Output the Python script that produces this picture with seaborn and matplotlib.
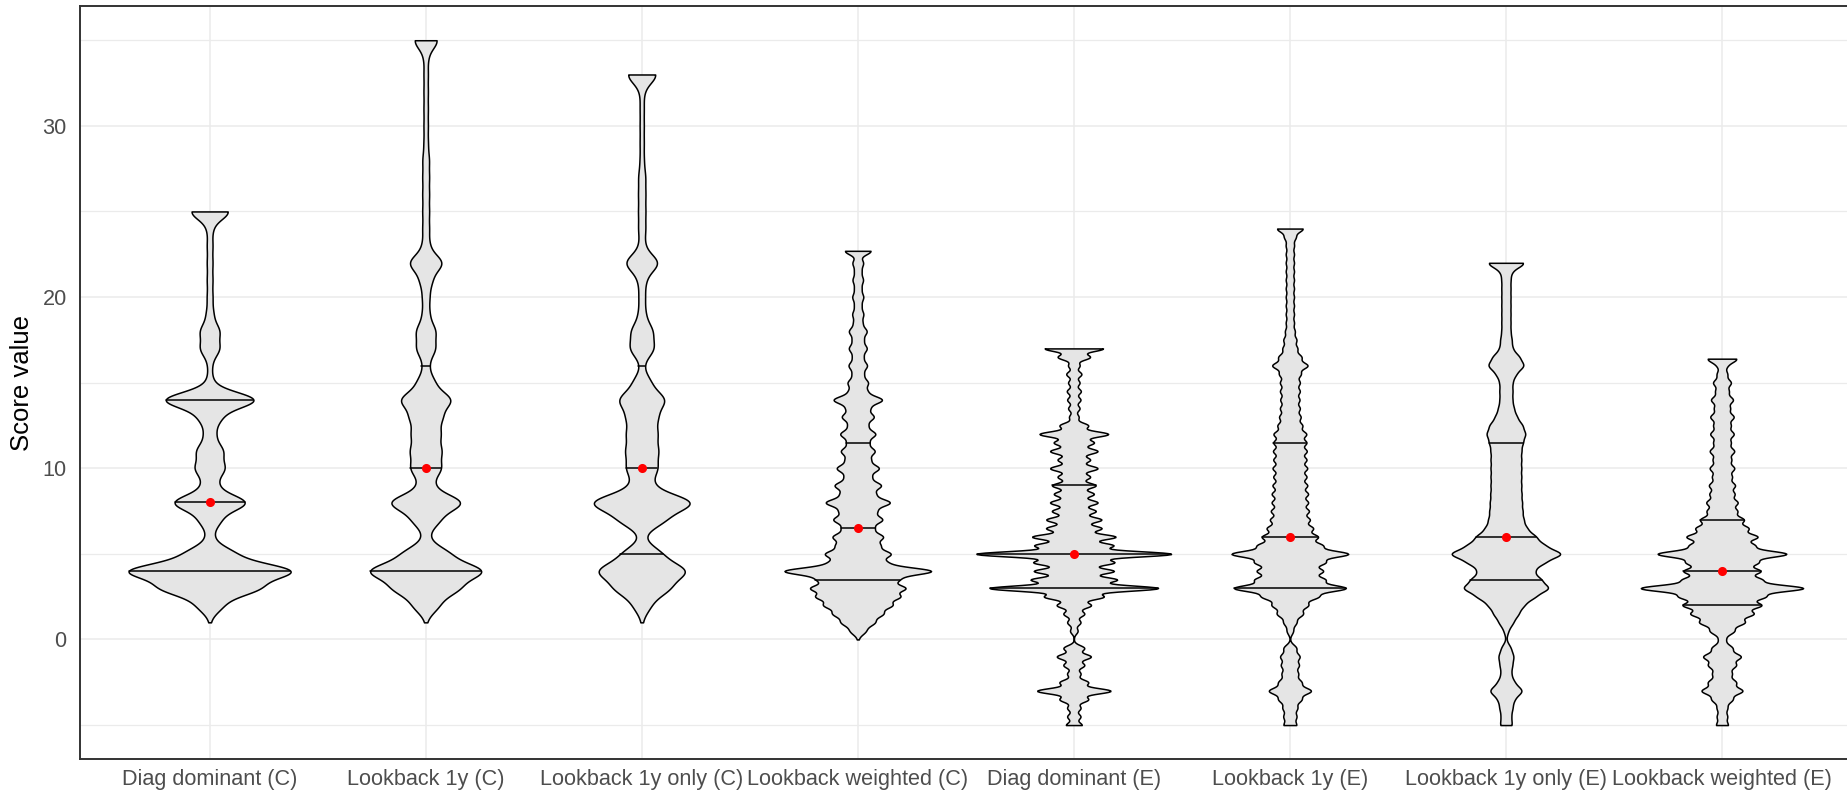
import numpy as np
import pandas as pd
import matplotlib
matplotlib.use("Agg")
import matplotlib.pyplot as plt
import seaborn as sns
from matplotlib.ticker import FixedLocator

categories = [
    "Diag dominant (C)", "Lookback 1y (C)", "Lookback 1y only (C)", "Lookback weighted (C)",
    "Diag dominant (E)", "Lookback 1y (E)", "Lookback 1y only (E)", "Lookback weighted (E)",
]

# Score values and the number of records holding each score, one pair per method
diag_c_scores = [1, 2, 3, 4, 5, 6, 7, 8, 9, 10, 11, 12, 13, 14, 15, 16, 17, 18, 19, 20,
                 21, 22, 23, 24, 25]
diag_c_counts = [1, 32, 124, 214, 62, 8, 27, 96, 18, 38, 34, 14, 28, 122, 8, 5, 25, 25, 9, 7,
                 7, 7, 7, 7, 51]

lb1y_c_scores = [1, 2, 3, 4, 5, 6, 7, 8, 9, 10, 11, 12, 13, 14, 15, 16, 17, 18, 19, 20,
                 21, 22, 23, 24, 25, 26, 27, 28, 29, 30, 31, 32, 33, 34, 35]
lb1y_c_counts = [2, 55, 140, 248, 100, 10, 58, 160, 29, 65, 65, 60, 67, 110, 37, 12, 41, 42, 15, 15,
                 26, 73, 15, 14, 14, 14, 14, 14, 9, 9, 9, 9, 9, 9, 53]

lb1y_only_c_scores = [1, 2, 3, 4, 5, 6, 7, 8, 9, 10, 11, 12, 13, 14, 15, 16, 17, 18, 19, 20,
                      21, 22, 23, 24, 25, 26, 27, 28, 29, 30, 31, 32, 33]
lb1y_only_c_counts = [2, 39, 125, 205, 89, 5, 104, 240, 43, 70, 72, 68, 68, 107, 40, 6, 56, 50, 16, 14,
                      17, 79, 12, 16, 16, 16, 16, 9, 9, 9, 9, 9, 72]

lbw_c_scores = [0, 0.5, 1, 1.5, 2, 2.5, 3, 3.5, 4, 4.5, 5, 5.5, 6, 6.5, 7, 7.5, 8, 8.5, 9, 9.5,
                10, 10.5, 11, 11.5, 12, 12.5, 13, 13.5, 14, 14.5, 15, 15.5, 16, 16.5, 17, 17.5,
                18, 18.5, 19, 19.5, 20, 20.5, 21, 21.5, 22, 22.7]
lbw_c_counts = [9, 135, 285, 420, 570, 700, 800, 640, 1300, 450, 560, 360, 430, 260, 420, 300, 560, 280, 400, 215,
                365, 205, 290, 180, 305, 160, 275, 190, 430, 150, 175, 95, 160, 90, 155, 95,
                155, 75, 95, 60, 95, 60, 90, 60, 95, 240]

diag_e_scores = [-5, -4.5, -4, -3.5, -3, -2.5, -2, -1.5, -1, -0.5,
                 0.5, 1, 1.5, 2, 2.5, 3, 3.5, 4, 4.5, 5, 5.5, 6, 6.5, 7, 7.5, 8, 8.5, 9, 9.5,
                 10, 10.5, 11, 11.5, 12, 12.5, 13, 13.5, 14, 14.5, 15, 15.5, 16, 16.5, 17]
diag_e_counts = [126, 105, 105, 225, 585, 225, 105, 165, 270, 165,
                 60, 105, 165, 270, 465, 1340, 675, 630, 630, 1550, 615, 660, 435, 435, 345, 375, 315, 345, 255,
                 375, 255, 375, 315, 546, 225, 75, 90, 105, 111, 90, 120, 90, 255, 465]

lb1y_e_scores = [-5, -4.5, -4, -3.5, -3, -2.5, -2, -1.5, -1, -0.5,
                 0.5, 1, 1.5, 2, 2.5, 3, 3.5, 4, 4.5, 5, 5.5, 6, 6.5, 7, 7.5, 8, 8.5, 9, 9.5,
                 10, 10.5, 11, 11.5, 12, 12.5, 13, 13.5, 14, 14.5, 15, 15.5, 16, 16.5, 17, 17.5,
                 18, 18.5, 19, 19.5, 20, 20.5, 21, 21.5, 22, 22.5, 23, 23.5, 24]
lb1y_e_counts = [160, 160, 180, 280, 528, 280, 200, 220, 240, 160,
                 80, 160, 320, 440, 680, 1400, 840, 800, 840, 1460, 776, 680, 560, 480, 460, 440, 440, 420, 400,
                 420, 400, 408, 400, 400, 300, 260, 240, 232, 240, 240, 260, 440, 280, 180, 160,
                 120, 100, 100, 100, 100, 100, 100, 100, 100, 100, 100, 140, 328]

lb1y_only_e_scores = [-5, -4.5, -4, -3.5, -3, -2.5, -2, -1.5, -1, -0.5,
                      0.5, 1, 1.5, 2, 2.5, 3, 3.5, 4, 4.5, 5, 5.5, 6, 6.5, 7, 7.5, 8, 8.5, 9, 9.5,
                      10, 10.5, 11, 11.5, 12, 12.5, 13, 13.5, 14, 14.5, 15, 15.5, 16, 16.5, 17, 17.5,
                      18, 18.5, 19, 19.5, 20, 20.5, 21, 21.5, 22]
lb1y_only_e_counts = [25, 20, 26, 32, 69, 33, 20, 25, 31, 20,
                      9, 29, 50, 70, 114, 175, 138, 107, 150, 230, 150, 119, 81, 69, 65, 63, 61, 60, 60,
                      60, 60, 60, 66, 78, 66, 43, 31, 25, 26, 25, 39, 74, 54, 25, 23,
                      18, 18, 18, 18, 18, 18, 18, 22, 83]

lbw_e_scores = [-5, -4.5, -4, -3.5, -3, -2.5, -2, -1.5, -1, -0.5, 0,
                0.5, 1, 1.5, 2, 2.5, 3, 3.5, 4, 4.5, 5, 5.5, 6, 6.5, 7, 7.5, 8, 8.5, 9, 9.5,
                10, 10.5, 11, 11.5, 12, 12.5, 13, 13.5, 14, 14.5, 15, 15.5, 16, 16.4]
lbw_e_counts = [35, 30, 30, 60, 120, 80, 55, 80, 110, 60, 20,
                70, 130, 180, 225, 240, 480, 220, 220, 200, 380, 180, 205, 150, 125, 86, 90, 71, 75, 56,
                71, 52, 71, 49, 68, 49, 68, 45, 64, 38, 52, 30, 26, 84]

score_sets = [
    (diag_c_scores, diag_c_counts), (lb1y_c_scores, lb1y_c_counts),
    (lb1y_only_c_scores, lb1y_only_c_counts), (lbw_c_scores, lbw_c_counts),
    (diag_e_scores, diag_e_counts), (lb1y_e_scores, lb1y_e_counts),
    (lb1y_only_e_scores, lb1y_only_e_counts), (lbw_e_scores, lbw_e_counts),
]

# kernel bandwidth (score units) used for each method's density
kernel_width = [0.46, 0.48, 0.5, 0.22, 0.165, 0.2, 0.26, 0.2]

frames = []
bw_by_size = {}
for name, (scores, counts), h in zip(categories, score_sets, kernel_width):
    frames.append(pd.DataFrame({"method": name,
                                "score": np.repeat(np.asarray(scores, float), counts)}))
    bw_by_size[int(np.sum(counts))] = h
df = pd.concat(frames, ignore_index=True)


def method_bandwidth(kde):
    """Bandwidth factor giving each method its own kernel width."""
    sd = np.std(kde.dataset, ddof=1)
    return bw_by_size[kde.n] / sd


sns.set_style("white")
plt.rcParams["font.family"] = ["Liberation Sans", "DejaVu Sans"]

W, H = 1847, 796
fig = plt.figure(figsize=(W / 100, H / 100), dpi=100)
ax = fig.add_axes([80 / W, 36.7 / H, 1771.6 / W, 753.3 / H])

sns.violinplot(
    data=df, x="method", y="score", order=categories, ax=ax,
    inner="quart", cut=0, gridsize=512, bw_method=method_bandwidth, bw_adjust=1,
    density_norm="area", width=0.9, color="#E5E5E5", saturation=1,
    linecolor="black", linewidth=1.1,
    inner_kws=dict(color="black", linewidth=1.1),
)
# quartile segments drawn solid
for line in ax.lines:
    line.set_linestyle("-")

# median of each method as a red point
sns.pointplot(
    data=df, x="method", y="score", order=categories, ax=ax,
    estimator="median", errorbar=None, color="red", marker="o",
    markersize=4.5, linestyle="none",
)

ax.set_xlim(-0.6, 7.6)
ax.set_ylim(-7, 37)
ax.yaxis.set_major_locator(FixedLocator([0, 10, 20, 30]))
ax.yaxis.set_minor_locator(FixedLocator([-5, 5, 15, 25, 35]))
ax.set_axisbelow(True)
ax.grid(which="major", axis="both", color="#EBEBEB", linewidth=1.1)
ax.grid(which="minor", axis="y", color="#EBEBEB", linewidth=0.9)

for spine in ax.spines.values():
    spine.set_visible(True)
    spine.set_color("#333333")
    spine.set_linewidth(1.4)

ax.tick_params(axis="both", which="major", length=4.8, width=1.0, color="#333333",
               labelsize=15.6, labelcolor="#4D4D4D")
ax.tick_params(axis="y", which="major", pad=4.8)
ax.tick_params(axis="x", which="major", pad=2.5)
ax.tick_params(axis="y", which="minor", length=0)

ax.set_xlabel("")
ax.set_ylabel("Score value", fontsize=18.5, color="black")
ax.yaxis.set_label_coords(-58 / 1771.6, 0.5)
ax.yaxis.label.set_verticalalignment("center")

fig.savefig("out.png", dpi=100, facecolor="white")
